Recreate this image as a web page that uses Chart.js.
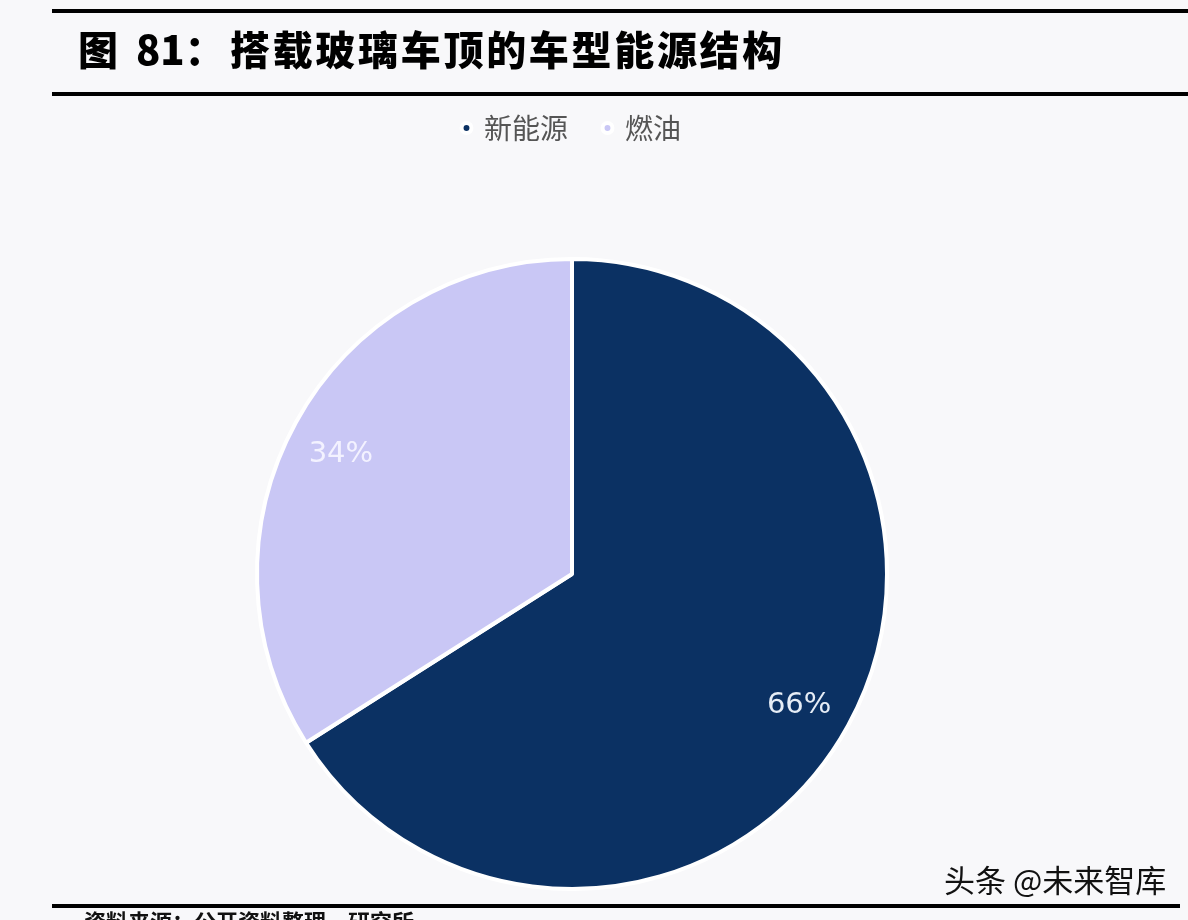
<!DOCTYPE html>
<html>
<head>
<meta charset="utf-8">
<script src="https://cdn.jsdelivr.net/npm/chart.js@4.4.0/dist/chart.umd.min.js"></script>
<style>
  html, body { margin: 0; padding: 0; background: #f8f8fa; }
  #wrap { width: 1188px; height: 920px; position: relative; }
</style>
</head>
<body>
<div id="wrap"><canvas id="pie"></canvas></div>
<script>
const labels = ["新能源", "燃油"];
const shares = [66, 34];
const colors = ["#0b3163", "#c9c7f5"];
const labelColors = ["#e6edf6", "#f3f2ff"];

const titleHead = "图";
const titleNum = "81：";
const titleBody = "搭载玻璃车顶的车型能源结构";
const watermark = "头条 @未来智库";
const sourceText = "资料来源：公开资料整理，研究所";

// make the legend box tall so the pie sits lower
const legendGap = {
  id: "legendGap",
  beforeInit(chart) {
    const fit = chart.legend.fit;
    chart.legend.fit = function () {
      fit.bind(chart.legend)();
      this.height = 179;
    };
  }
};

// lines, title, watermark and percent labels
const decor = {
  id: "decor",
  afterDraw(chart) {
    const ctx = chart.ctx;
    ctx.save();
    ctx.fillStyle = "#000";
    ctx.fillRect(52, 9, 1136, 4);
    ctx.fillRect(52, 92, 1136, 4);
    ctx.fillRect(52, 904, 1128, 4);

    ctx.font = "900 40px 'Noto Sans CJK SC'";
    ctx.textBaseline = "middle";
    ctx.fillText(titleHead, 78, 50);
    ctx.fillText(titleNum, 136, 50);
    const w = ctx.measureText(titleBody).width;
    ctx.letterSpacing = ((555 - w) / 13).toFixed(2) + "px";
    ctx.fillText(titleBody, 230, 50);
    ctx.letterSpacing = "0px";

    ctx.font = "31px 'Noto Sans CJK SC'";
    ctx.fillStyle = "#111";
    ctx.fillText(watermark, 944, 880);

    ctx.font = "bold 22px 'Noto Sans CJK SC'";
    ctx.textBaseline = "top";
    ctx.fillText(sourceText, 84, 911);

    const meta = chart.getDatasetMeta(0);
    ctx.font = "29px 'DejaVu Sans'";
    ctx.textAlign = "center";
    ctx.textBaseline = "middle";
    meta.data.forEach((arc, i) => {
      const mid = (arc.startAngle + arc.endAngle) / 2;
      const r = arc.outerRadius * 0.83;
      ctx.fillStyle = labelColors[i];
      ctx.fillText(shares[i] + "%", arc.x + Math.cos(mid) * r - 2, arc.y + Math.sin(mid) * r + 6);
    });
    ctx.restore();
  }
};

new Chart(document.getElementById("pie"), {
  type: "pie",
  data: {
    labels: labels,
    datasets: [{
      data: shares,
      backgroundColor: colors,
      borderColor: "#ffffff",
      borderWidth: 4
    }]
  },
  options: {
    responsive: true,
    maintainAspectRatio: false,
    animation: false,
    layout: { padding: { top: 78, left: 255, right: 299, bottom: 29 } },
    plugins: {
      tooltip: { enabled: false },
      legend: {
        position: "top",
        labels: {
          usePointStyle: true,
          pointStyle: "circle",
          boxWidth: 7,
          boxHeight: 7,
          padding: 36,
          color: "#555",
          font: { size: 28, family: "'Noto Sans CJK SC'" }
        }
      }
    }
  },
  plugins: [legendGap, decor]
});
</script>
</body>
</html>
